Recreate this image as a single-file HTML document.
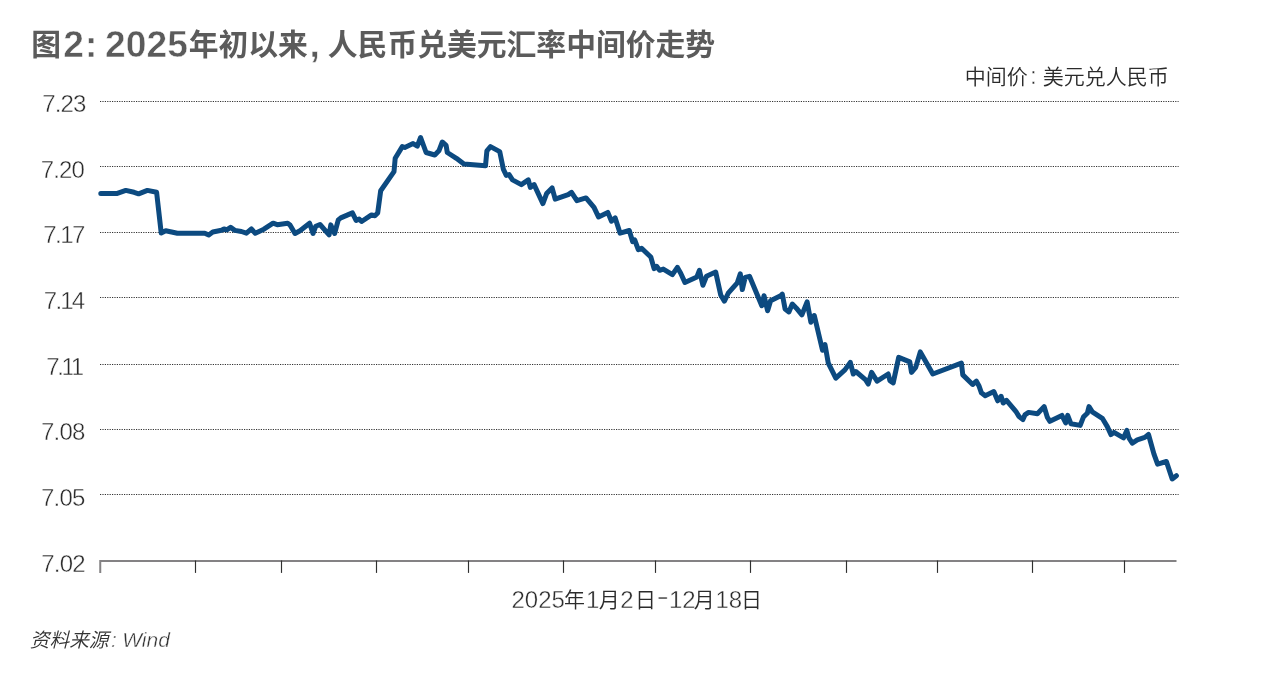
<!DOCTYPE html>
<html lang="zh-CN">
<head>
<meta charset="utf-8">
<title>图2: 2025年初以来, 人民币兑美元汇率中间价走势</title>
<style>
html,body{margin:0;padding:0;background:#fff;}
body{width:1274px;height:682px;overflow:hidden;position:relative;font-family:"Liberation Sans","Noto Sans CJK SC",sans-serif;}
svg{position:absolute;left:0;top:0;display:block;}
svg text{font-family:"Liberation Sans","Noto Sans CJK SC",sans-serif;}
.title{font-weight:700;fill:#5b5b5b;}
.title .c{font-size:29.8px;}
.title .l{font-size:37.2px;letter-spacing:0px;stroke:#fff;stroke-width:0.5px;}
.legend{font-size:21px;font-weight:350;fill:#2b2b2b;}
.legend .l{font-size:24px;stroke:#fff;stroke-width:0.42px;}
.ylab text{font-size:24px;font-weight:300;fill:#2b2b2b;stroke:#fff;stroke-width:0.42px;}
.xlab{font-weight:350;fill:#2b2b2b;}
.xlab .c{font-size:21px;}
.xlab .l{font-size:24px;stroke:#fff;stroke-width:0.42px;}
.src{font-weight:350;font-style:italic;fill:#333;}
.src .c{font-size:19.7px;}
.src .l{font-size:21px;stroke:#fff;stroke-width:0.4px;}
.grid line{stroke:#333;stroke-width:1;stroke-dasharray:1.2 1.2;}
.ticks line{stroke:#303030;stroke-width:1.15;}
</style>
</head>
<body>
<svg width="1274" height="682" viewBox="0 0 1274 682">
<rect width="1274" height="682" fill="#fff"/>
<text class="title"><tspan class="c" x="31.2" y="54.5">图</tspan><tspan class="l" x="63.2" y="57">2</tspan><tspan class="l" x="85.1" y="57">: </tspan><tspan class="l" x="105.1" y="57">2025</tspan><tspan class="c" x="188.7" y="54.5">年初以来</tspan><tspan class="l" x="309.6" y="57">, </tspan><tspan class="c" x="327.8" y="54.5">人民币兑美元汇率中间价走势</tspan></text>
<text class="legend" y="84.3"><tspan class="c" x="964.8">中间价</tspan><tspan class="l" x="1030">: </tspan><tspan class="c" x="1042.8">美元兑人民币</tspan></text>
<g class="grid">
<line x1="100" x2="1178.6" y1="101.5" y2="101.5"/>
<line x1="100" x2="1178.6" y1="166.5" y2="166.5"/>
<line x1="100" x2="1178.6" y1="232.5" y2="232.5"/>
<line x1="100" x2="1178.6" y1="297.5" y2="297.5"/>
<line x1="100" x2="1178.6" y1="364.5" y2="364.5"/>
<line x1="100" x2="1178.6" y1="429.5" y2="429.5"/>
<line x1="100" x2="1178.6" y1="494.5" y2="494.5"/>
</g>
<g class="ylab">
<text x="63.9" y="112.1" text-anchor="middle" style="letter-spacing:-0.8px">7.23</text>
<text x="62.4" y="177.6" text-anchor="middle" style="letter-spacing:-0.8px">7.20</text>
<text x="63.6" y="242.9" text-anchor="middle" style="letter-spacing:-1.5px">7.17</text>
<text x="63.6" y="308.8" text-anchor="middle" style="letter-spacing:-1.8px">7.14</text>
<text x="64.0" y="375.1" text-anchor="middle" style="letter-spacing:-2.4px">7.11</text>
<text x="62.8" y="439.6" text-anchor="middle" style="letter-spacing:-0.8px">7.08</text>
<text x="62.8" y="506.1" text-anchor="middle" style="letter-spacing:-0.8px">7.05</text>
<text x="63.0" y="572.0" text-anchor="middle" style="letter-spacing:-0.8px">7.02</text>
</g>
<path d="M100.25,572.9 V561 H1176.5" fill="none" stroke="#848284" stroke-width="2" stroke-linejoin="miter"/>
<g class="ticks">
<line x1="195.5" x2="195.5" y1="560.5" y2="572.9"/>
<line x1="281.5" x2="281.5" y1="560.5" y2="572.9"/>
<line x1="376.5" x2="376.5" y1="560.5" y2="572.9"/>
<line x1="468.5" x2="468.5" y1="560.5" y2="572.9"/>
<line x1="563.5" x2="563.5" y1="560.5" y2="572.9"/>
<line x1="655.5" x2="655.5" y1="560.5" y2="572.9"/>
<line x1="750.5" x2="750.5" y1="560.5" y2="572.9"/>
<line x1="846.5" x2="846.5" y1="560.5" y2="572.9"/>
<line x1="937.5" x2="937.5" y1="560.5" y2="572.9"/>
<line x1="1032.5" x2="1032.5" y1="560.5" y2="572.9"/>
<line x1="1124.5" x2="1124.5" y1="560.5" y2="572.9"/>
</g>
<path d="M100.8,193.6 L116.6,193.6 L125.8,190.4 L134.1,192.3 L138.6,193.8 L147.4,190.4 L156.6,192.3 L161.2,232.9 L165.7,230.7 L177.4,233.2 L204.8,233.2 L208.7,235.0 L212.8,232.0 L221.5,230.2 L224.0,228.9 L226.8,229.9 L230.6,227.4 L234.8,230.4 L241.4,231.5 L246.4,233.2 L251.4,229.0 L255.3,233.2 L263.9,229.2 L273.1,223.2 L277.2,224.7 L287.7,223.2 L290.0,224.9 L295.0,233.5 L300.0,230.7 L309.6,223.2 L313.0,233.5 L315.8,226.2 L320.0,224.5 L329.1,234.8 L330.8,224.9 L334.6,233.5 L338.3,219.9 L340.8,217.9 L352.4,212.9 L356.1,220.4 L359.1,219.0 L361.6,221.5 L371.5,214.9 L374.9,215.7 L377.7,212.9 L380.7,190.7 L394.0,171.6 L395.2,158.3 L402.3,146.6 L404.8,147.5 L413.1,143.6 L417.3,146.1 L420.6,137.5 L426.1,152.5 L434.8,155.0 L438.9,150.8 L442.3,142.0 L446.1,145.3 L447.3,152.5 L456.4,158.3 L463.9,164.1 L485.5,165.8 L486.9,150.8 L490.5,146.6 L499.7,151.6 L503.3,169.1 L506.3,175.4 L509.1,174.6 L512.5,179.9 L521.3,184.6 L528.3,179.9 L530.3,187.4 L534.1,184.6 L542.9,203.6 L546.6,193.6 L552.1,187.9 L555.2,199.1 L568.2,194.6 L571.5,192.4 L576.9,200.7 L586.0,197.9 L594.0,207.4 L598.5,216.9 L607.8,212.4 L611.5,221.2 L615.2,217.9 L620.1,233.2 L629.3,230.5 L632.6,241.6 L634.7,240.0 L638.3,249.6 L641.6,248.3 L650.8,257.0 L654.1,268.6 L656.6,266.3 L659.6,270.3 L663.3,269.1 L672.4,274.6 L677.4,267.4 L680.7,273.3 L684.9,282.4 L696.9,276.9 L699.4,270.3 L702.9,285.2 L706.5,276.3 L715.7,272.1 L720.7,294.9 L724.4,301.2 L728.2,293.2 L737.3,282.9 L740.3,273.8 L742.3,289.6 L745.2,277.4 L749.5,276.3 L761.8,305.7 L764.0,295.7 L767.6,310.7 L770.6,300.7 L780.6,295.7 L782.3,294.1 L785.1,309.0 L788.9,311.9 L792.3,304.0 L796.4,308.2 L801.9,314.9 L807.1,301.8 L810.9,322.2 L814.3,315.5 L822.5,350.2 L825.0,344.6 L828.3,363.2 L835.8,378.2 L844.9,369.9 L850.3,362.4 L853.3,374.0 L855.8,371.5 L865.7,379.9 L868.2,384.0 L871.6,372.4 L877.1,381.2 L888.2,374.0 L889.9,380.7 L893.2,382.9 L898.7,357.4 L909.8,361.9 L911.5,372.4 L915.7,367.4 L920.3,351.9 L932.8,374.0 L961.4,363.2 L962.8,374.9 L972.6,384.5 L976.4,381.2 L978.9,385.7 L981.4,392.8 L985.2,395.7 L993.8,391.5 L997.7,400.8 L1001.1,396.3 L1003.2,403.0 L1006.5,400.3 L1015.8,411.3 L1019.1,416.6 L1022.9,419.6 L1024.9,414.9 L1028.6,412.4 L1037.4,413.8 L1044.1,406.6 L1047.4,417.4 L1049.9,421.3 L1061.9,415.4 L1065.7,422.9 L1067.7,415.3 L1071.0,423.8 L1080.2,425.4 L1083.5,416.9 L1087.3,413.3 L1089.0,406.6 L1092.3,411.9 L1102.3,418.3 L1107.3,426.6 L1111.0,434.6 L1114.0,432.4 L1123.5,437.9 L1126.8,430.4 L1128.9,437.9 L1132.3,443.2 L1137.3,439.9 L1144.8,437.4 L1148.5,434.5 L1153.9,453.9 L1157.6,464.1 L1166.4,461.5 L1172.2,479.0 L1176.4,475.7" fill="none" stroke="#0c4a80" stroke-width="5" stroke-linejoin="round" stroke-linecap="round"/>
<text class="xlab"><tspan class="l" x="511.5" y="607.5">2025</tspan><tspan class="c" x="564" y="606.6">年</tspan><tspan class="l" x="586" y="607.5">1</tspan><tspan class="c" x="598.8" y="606.6">月</tspan><tspan class="l" x="620.3" y="607.5">2</tspan><tspan class="c" x="635" y="606.6">日</tspan><tspan class="l" x="656.6" y="604.1" textLength="12.4" lengthAdjust="spacingAndGlyphs">-</tspan><tspan class="l" x="669" y="607.5">12</tspan><tspan class="c" x="693.7" y="606.6">月</tspan><tspan class="l" x="715.4" y="607.5">18</tspan><tspan class="c" x="741" y="606.6">日</tspan></text>
<text class="src" y="646.6"><tspan class="c" x="29.8">资料来源</tspan><tspan class="l" x="111">: </tspan><tspan class="l" x="122.2">Wind</tspan></text>
</svg>
</body>
</html>
